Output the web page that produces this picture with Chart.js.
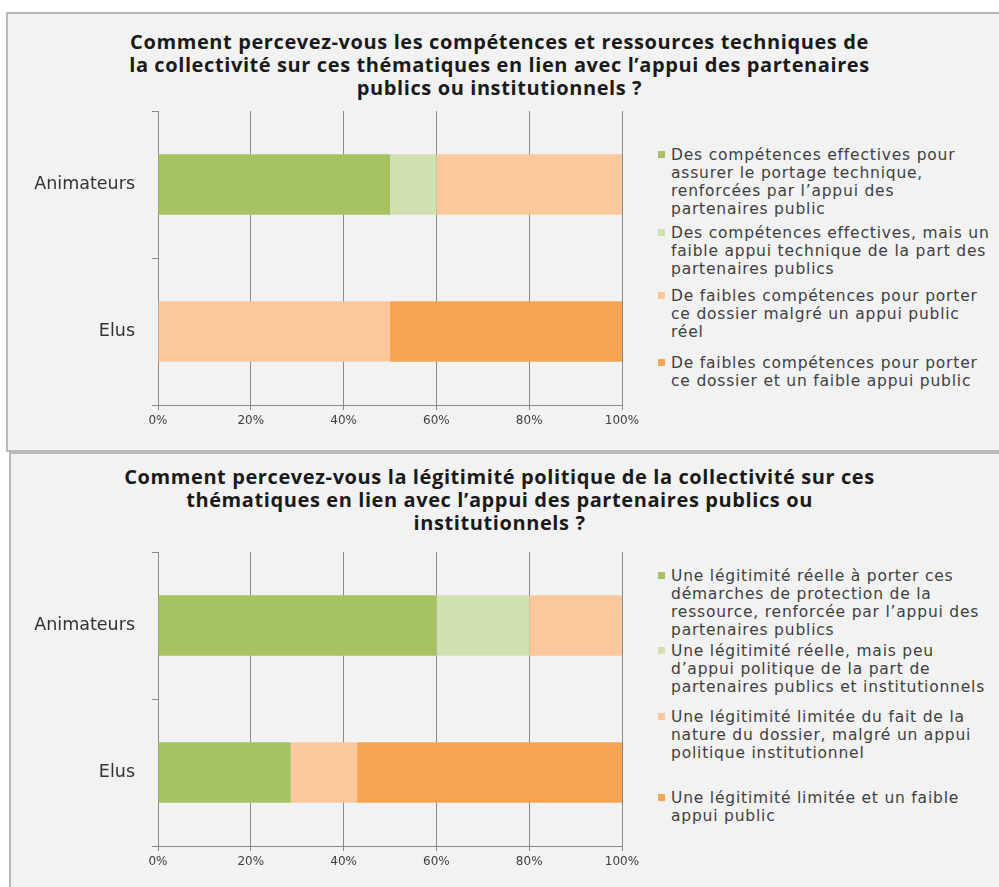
<!DOCTYPE html>
<html lang="fr">
<head>
<meta charset="utf-8">
<script src="https://cdn.jsdelivr.net/npm/chart.js@4.4.0/dist/chart.umd.min.js"></script>
<style>
  body { margin: 0; width: 999px; height: 887px; overflow: hidden; position: relative; background: #fff; font-family: "Open Sans", sans-serif; }
  .panneau { position: absolute; background: #f2f2f2; border: 2px solid #b9b9b9; box-sizing: border-box; }
  #p1 { left: 6px; top: 12px; width: 1000px; height: 440px; }
  #p2 { left: 9px; top: 452px; width: 1000px; height: 445px; }
  .titre { position: absolute; width: 999px; text-align: center; font-weight: 700; font-size: 20px; letter-spacing: 0.6px; line-height: 23px; color: #1a1a1a; }
  .zone { position: absolute; left: 10px; width: 640px; height: 335px; }
  .legende { position: absolute; left: 658px; color: #404040; font-family: "DejaVu Sans", sans-serif; font-size: 15.5px; letter-spacing: 0.8px; line-height: 18px; }
  .item { position: absolute; left: 0; white-space: nowrap; }
  .item span.carre { position: absolute; left: 0; top: 5px; width: 7px; height: 7px; }
  .item div { padding-left: 13px; }
</style>
</head>
<body>
<div class="panneau" id="p1"></div>
<div class="panneau" id="p2"></div>
<div class="titre" id="t1" style="left:0; top:30px"></div>
<div class="titre" id="t2" style="left:0; top:465px"></div>
<div class="zone" style="top:100px"><canvas id="c1"></canvas></div>
<div class="zone" style="top:541px"><canvas id="c2"></canvas></div>
<div class="legende" id="l1" style="top:0"></div>
<div class="legende" id="l2" style="top:0"></div>

<script>
// données (en %)
const categories = ["Animateurs", "Elus"];
const ticksX = ["0%", "20%", "40%", "60%", "80%", "100%"];
const couleurs = ["#a6c263", "#d1e0b0", "#fbc89d", "#f7a552"];

const titre1 = [
  "Comment percevez-vous les compétences et ressources techniques de",
  "la collectivité sur ces thématiques en lien avec l’appui des partenaires",
  "publics ou institutionnels ?"
];
const titre2 = [
  "Comment percevez-vous la légitimité politique de la collectivité sur ces",
  "thématiques en lien avec l’appui des partenaires publics ou",
  "institutionnels ?"
];

// graphique 1
const compEffectivesAppui = [50, 0];
const compEffectivesFaibleAppui = [10, 0];
const faiblesCompAppuiReel = [40, 50];
const faiblesCompFaibleAppui = [0, 50];

const legende1 = [
  ["Des compétences effectives pour", "assurer le portage technique,", "renforcées par l’appui des", "partenaires public"],
  ["Des compétences effectives, mais un", "faible appui technique de la part des", "partenaires publics"],
  ["De faibles compétences pour porter", "ce dossier malgré un appui public", "réel"],
  ["De faibles compétences pour porter", "ce dossier et un faible appui public"]
];

// graphique 2
const legitReelleAppui = [60, 28.6];
const legitReellePeuAppui = [20, 0];
const legitLimiteeAppui = [20, 14.3];
const legitLimiteeFaible = [0, 57.1];

const legende2 = [
  ["Une légitimité réelle à porter ces", "démarches de protection de la", "ressource, renforcée par l’appui des", "partenaires publics"],
  ["Une légitimité réelle, mais peu", "d’appui politique de la part de", "partenaires publics et institutionnels"],
  ["Une légitimité limitée du fait de la", "nature du dossier, malgré un appui", "politique institutionnel"],
  ["Une légitimité limitée et un faible", "appui public"]
];

// position verticale des entrées de légende
const posLegende1 = [146, 224, 287, 354];
const posLegende2 = [567, 642, 708, 789];

function remplirTitre(id, lignes) {
  document.getElementById(id).innerHTML = lignes.join("<br>");
}

function remplirLegende(id, textes, positions) {
  let el = document.getElementById(id);
  textes.forEach((lignes, i) => {
    let item = document.createElement("div");
    item.className = "item";
    item.style.top = positions[i] + "px";
    item.innerHTML = '<span class="carre" style="background:' + couleurs[i] + '"></span><div>' + lignes.join("<br>") + "</div>";
    el.appendChild(item);
  });
}

function creerGraphique(id, series, noms) {
  let ctx = document.getElementById(id);
  return new Chart(ctx, {
    type: "bar",
    data: {
      labels: categories,
      datasets: series.map((s, i) => ({
        label: noms[i].join(" "),
        data: s,
        backgroundColor: couleurs[i],
        borderWidth: 0,
        categoryPercentage: 1,
        barPercentage: 0.41,
      })),
    },
    options: {
      indexAxis: "y",
      responsive: true,
      maintainAspectRatio: false,
      animation: false,
      layout: { padding: { top: 11, right: 28, left: 0, bottom: 0 } },
      plugins: {
        legend: { display: false },
        tooltip: { enabled: false },
      },
      scales: {
        x: {
          stacked: true,
          min: 0,
          max: 100,
          ticks: {
            stepSize: 20,
            padding: 4,
            color: "#404040",
            font: { family: "DejaVu Sans", size: 12 },
            callback: (v, i) => ticksX[i],
          },
          grid: { color: "#8a8a8a", lineWidth: 1, tickLength: 5 },
          border: { display: true, color: "#8a8a8a" },
          afterFit: (scale) => { scale.height = 30; },
        },
        y: {
          stacked: true,
          ticks: {
            padding: 17,
            color: "#333333",
            font: { family: "DejaVu Sans", size: 17.5 },
          },
          grid: { offset: true, drawOnChartArea: false, color: "#8a8a8a", tickLength: 6 },
          border: { display: true, color: "#8a8a8a" },
          afterFit: (scale) => {
            scale.width = 148;
            // pas de marge haute/basse ajoutée par les libellés
            scale.paddingTop = 0;
            scale.paddingBottom = 0;
          },
        },
      },
    },
  });
}

remplirTitre("t1", titre1);
remplirTitre("t2", titre2);
remplirLegende("l1", legende1, posLegende1);
remplirLegende("l2", legende2, posLegende2);

creerGraphique("c1", [compEffectivesAppui, compEffectivesFaibleAppui, faiblesCompAppuiReel, faiblesCompFaibleAppui], legende1);
creerGraphique("c2", [legitReelleAppui, legitReellePeuAppui, legitLimiteeAppui, legitLimiteeFaible], legende2);
</script>
</body>
</html>
